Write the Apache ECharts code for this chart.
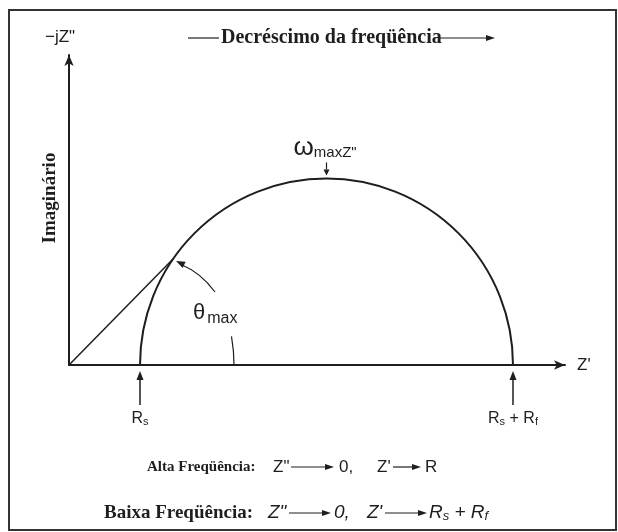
<!DOCTYPE html>
<html>
<head>
<meta charset="utf-8">
<script src="https://cdn.jsdelivr.net/npm/echarts@6/dist/echarts.min.js"></script>
<style>
  html, body { margin: 0; padding: 0; background: #fff; }
  #chart { width: 618px; height: 532px; }
</style>
</head>
<body>
<div id="chart"></div>
<script>
// Nyquist diagram of a parallel RC element in series with Rs
const Rs = 71;                 // high-frequency intercept on Z'
const Rf = 373;                // semicircle diameter
const xRange = [0, 496];       // Z' axis extent
const yRange = [0, 310];       // -jZ" axis extent
const thetaPoint = [104, 106]; // where the line from the origin meets the arc
const thetaArcRadius = 165;    // radius of the angle marker
const thetaArcAngle = 10;      // degrees swept by the lower angle marker

const INK = '#1e1e1e';
const SERIF = '"Liberation Serif", "DejaVu Serif", serif';
const SANS = '"Liberation Sans", "DejaVu Sans", sans-serif';

const chart = echarts.init(document.getElementById('chart'));

const axisCommon = {
  type: 'value',
  axisLine: {
    show: true,
    symbol: ['none', 'arrow'],
    symbolSize: [7, 11],
    lineStyle: { color: INK, width: 2 }
  },
  axisTick: { show: false },
  axisLabel: { show: false },
  splitLine: { show: false }
};

chart.setOption({
  animation: false,
  grid: { left: 69, right: 53, top: 55, bottom: 167 },
  xAxis: Object.assign({}, axisCommon, { min: xRange[0], max: xRange[1] }),
  yAxis: Object.assign({}, axisCommon, { min: yRange[0], max: yRange[1] }),
  series: [
    {
      // semicircle from Rs to Rs + Rf
      type: 'custom',
      data: [[Rs, Rs + Rf]],
      silent: true,
      renderItem: function (params, api) {
        const a = api.coord([api.value(0), 0]);
        const b = api.coord([api.value(1), 0]);
        return {
          type: 'arc',
          shape: {
            cx: (a[0] + b[0]) / 2, cy: a[1], r: (b[0] - a[0]) / 2,
            startAngle: Math.PI, endAngle: 2 * Math.PI, clockwise: true
          },
          style: { stroke: INK, lineWidth: 2, fill: null }
        };
      }
    },
    {
      // line from the origin to the arc
      type: 'line',
      data: [[0, 0], thetaPoint],
      showSymbol: false,
      silent: true,
      lineStyle: { color: INK, width: 1.5 }
    }
  ]
});

function px(p) { return chart.convertToPixel({ gridIndex: 0 }, p); }

// straight arrow with a filled head at (x2, y2)
function arrow(x1, y1, x2, y2, head, width, lw) {
  head = head || 9; width = width || 3.5; lw = lw || 1.5;
  const ang = Math.atan2(y2 - y1, x2 - x1);
  const bx = x2 - head * Math.cos(ang), by = y2 - head * Math.sin(ang);
  const nx = -Math.sin(ang) * width, ny = Math.cos(ang) * width;
  return [
    { type: 'line', shape: { x1: x1, y1: y1, x2: bx, y2: by }, style: { stroke: INK, lineWidth: lw } },
    { type: 'polygon', shape: { points: [[x2, y2], [bx + nx, by + ny], [bx - nx, by - ny]] }, style: { fill: INK } }
  ];
}

function text(x, y, str, opt) {
  return {
    type: 'text', x: x, y: y,
    style: Object.assign({
      text: str, fill: INK, font: '16px ' + SANS,
      textAlign: 'left', textVerticalAlign: 'middle'
    }, opt || {})
  };
}

function richR(x, y, str, size, italic, align) {
  return {
    type: 'text', x: x, y: y,
    style: {
      text: str, fill: INK, textAlign: align || 'left', textVerticalAlign: 'middle',
      fontFamily: SANS, fontSize: size, fontStyle: italic ? 'italic' : 'normal',
      rich: {
        r: { fontFamily: SANS, fontSize: size, fontStyle: italic ? 'italic' : 'normal', fill: INK },
        s: { fontFamily: SANS, fontSize: Math.round(size * 0.7), fontStyle: italic ? 'italic' : 'normal', fill: INK, padding: [6, 0, 0, 0] }
      }
    }
  };
}

const origin = px([0, 0]);
const pRs = px([Rs, 0]);
const pRsRf = px([Rs + Rf, 0]);
const pPeak = px([Rs + Rf / 2, Rf / 2]);
const pTheta = px(thetaPoint);
const xEnd = px([xRange[1], 0]);

const g = [];

// frame
g.push({ type: 'rect', shape: { x: 9, y: 10, width: 607, height: 520 }, style: { stroke: '#333', lineWidth: 2, fill: null } });

// title with frequency arrow
g.push({ type: 'line', shape: { x1: 188, y1: 38, x2: 219, y2: 38 }, style: { stroke: INK, lineWidth: 1.2 } });
g.push(text(221, 38, 'Decréscimo da freqüência', { font: 'bold 20px ' + SERIF }));
g.push.apply(g, arrow(440, 38, 495, 38, 9, 3, 1.2));

// axis names
g.push(text(45, 37, '−jZ"', { font: '17px ' + SANS }));
g.push(text(xEnd[0] + 12, xEnd[1], "Z'", { font: '17px ' + SANS }));
g.push({
  type: 'text', x: 50, y: 198, rotation: Math.PI / 2,
  style: { text: 'Imaginário', fill: INK, font: 'bold 19px ' + SERIF, textAlign: 'center', textVerticalAlign: 'middle' }
});

// intercept markers
g.push.apply(g, arrow(pRs[0], pRs[1] + 40, pRs[0], pRs[1] + 6, 9, 3.5, 1.5));
g.push(richR(pRs[0], pRs[1] + 54, '{r|R}{s|s}', 16, false, 'center'));
g.push.apply(g, arrow(pRsRf[0], pRsRf[1] + 40, pRsRf[0], pRsRf[1] + 6, 9, 3.5, 1.5));
g.push(richR(pRsRf[0], pRsRf[1] + 54, '{r|R}{s|s} {r|+} {r|R}{s|f}', 16, false, 'center'));

// frequency at the top of the arc
g.push.apply(g, arrow(pPeak[0], pPeak[1] - 16, pPeak[0], pPeak[1] - 3, 6, 3, 1.2));
g.push({
  type: 'text', x: pPeak[0] - 33, y: pPeak[1] - 31,
  style: {
    text: '{w|ω}{m|maxZ"}', textAlign: 'left', textVerticalAlign: 'middle',
    rich: {
      w: { fontFamily: SANS, fontSize: 26, fill: INK },
      m: { fontFamily: SANS, fontSize: 15, fill: INK, padding: [10, 0, 0, 0] }
    }
  }
});

// angle marker: lower arc on the Z' axis
g.push({
  type: 'arc',
  shape: {
    cx: origin[0], cy: origin[1], r: thetaArcRadius,
    startAngle: -thetaArcAngle * Math.PI / 180, endAngle: 0, clockwise: true
  },
  style: { stroke: INK, lineWidth: 1.2, fill: null }
});
// angle marker: curved arrow up to the line
(function () {
  const sx = origin[0] + 146, sy = origin[1] - 73;
  const ex = pTheta[0] + 3, ey = pTheta[1] + 2;
  const cx = (sx + ex) / 2 + 5, cy = (sy + ey) / 2 - 4;
  g.push({ type: 'bezierCurve', shape: { x1: sx, y1: sy, x2: ex + 6, y2: ey + 4, cpx1: cx, cpy1: cy }, style: { stroke: INK, lineWidth: 1.2, fill: null } });
  const ang = Math.atan2(ey - cy, ex - cx);
  const head = 9, w = 3.5;
  const bx = ex - head * Math.cos(ang), by = ey - head * Math.sin(ang);
  const nx = -Math.sin(ang) * w, ny = Math.cos(ang) * w;
  g.push({ type: 'polygon', shape: { points: [[ex, ey], [bx + nx, by + ny], [bx - nx, by - ny]] }, style: { fill: INK } });
})();
g.push({
  type: 'text', x: origin[0] + 124, y: origin[1] - 52,
  style: {
    text: '{t|θ}{m|max}', textAlign: 'left', textVerticalAlign: 'middle',
    rich: {
      t: { fontFamily: SANS, fontSize: 22, fill: INK },
      m: { fontFamily: SANS, fontSize: 16, fill: INK, padding: [12, 0, 0, 2] }
    }
  }
});

// limiting behaviour, high frequency
g.push(text(147, 467, 'Alta Freqüência:', { font: 'bold 15px ' + SERIF }));
g.push(text(273, 467, 'Z"', { font: '17px ' + SANS }));
g.push.apply(g, arrow(291, 467, 334, 467, 9, 3, 1.2));
g.push(text(339, 467, '0,', { font: '17px ' + SANS }));
g.push(text(377, 467, "Z'", { font: '17px ' + SANS }));
g.push.apply(g, arrow(393, 467, 421, 467, 9, 3, 1.2));
g.push(text(425, 467, 'R', { font: '17px ' + SANS }));

// limiting behaviour, low frequency
g.push(text(104, 513, 'Baixa Freqüência:', { font: 'bold 19px ' + SERIF }));
g.push(text(268, 513, 'Z"', { font: 'italic 19px ' + SANS }));
g.push.apply(g, arrow(289, 513, 331, 513, 9, 3, 1.2));
g.push(text(334, 513, '0,', { font: 'italic 19px ' + SANS }));
g.push(text(367, 513, "Z'", { font: 'italic 19px ' + SANS }));
g.push.apply(g, arrow(385, 513, 427, 513, 9, 3, 1.2));
g.push(richR(429, 513, '{r|R}{s|s}{r| + R}{s|f}', 19, true, 'left'));

chart.setOption({ graphic: { elements: g } });
</script>
</body>
</html>
